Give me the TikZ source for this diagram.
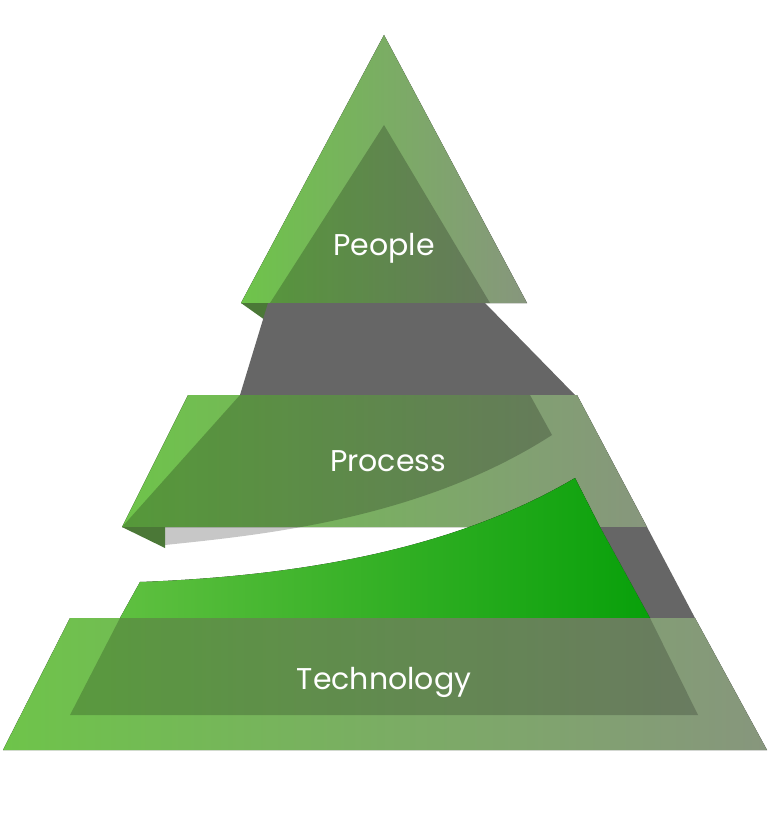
\documentclass[tikz,border=0pt]{standalone}
\usepackage{fontspec}
\setmainfont{Poppins}
\definecolor{gl}{RGB}{110,196,74}
\definecolor{gr}{RGB}{135,150,125}
\definecolor{fold}{RGB}{75,120,55}
\definecolor{bl}{RGB}{95,192,64}
\definecolor{br}{RGB}{8,160,10}
\tikzset{
 lbl/.style={text=white,font=\fontsize{30}{34}\selectfont},
 grey/.style={fill=black!60},
 band/.style={left color=gl,right color=gr}
}
\begin{document}
\begin{tikzpicture}[x=1pt,y=-1pt]
\useasboundingbox (0,0) rectangle (769,818);
\fill[band] (241,303) -- (384,35) -- (527,303) -- cycle;
\fill[black,opacity=0.22] (270,303) -- (384,125) -- (490,303) -- cycle;
\fill[fold] (241,303) -- (272,303) -- (272,325) -- cycle;
\fill[grey] (268,303) -- (485,303) -- (575,395) -- (240,395) -- cycle;
\fill[band] (188,395) -- (577,395) -- (647,527) -- (122,527) -- cycle;
\fill[black,opacity=0.22] (240,395) -- (530,395) -- (552,435) .. controls (420,520) and (260,535) .. (165,545) -- (122,527) -- cycle;
\fill[fold] (122,527) -- (165,527) -- (165,548) -- cycle;
\fill[grey] (600,527) -- (647,527) -- (695,618) -- (650,618) -- cycle;
\fill[left color=bl,right color=br] (140,582) .. controls (330,575) and (470,540) .. (575,478) -- (600,527) -- (650,618) -- (120,618) -- cycle;
\fill[band] (70,618) -- (695,618) -- (767,750) -- (3,750) -- cycle;
\fill[black,opacity=0.2] (120,618) -- (650,618) -- (698,715) -- (70,715) -- cycle;
\node[lbl] (people) at (384,248) {People};
\node[lbl] (process) at (388,461) {Process};
\node[lbl] (tech) at (384,682) {Technology};
\end{tikzpicture}
\end{document}
